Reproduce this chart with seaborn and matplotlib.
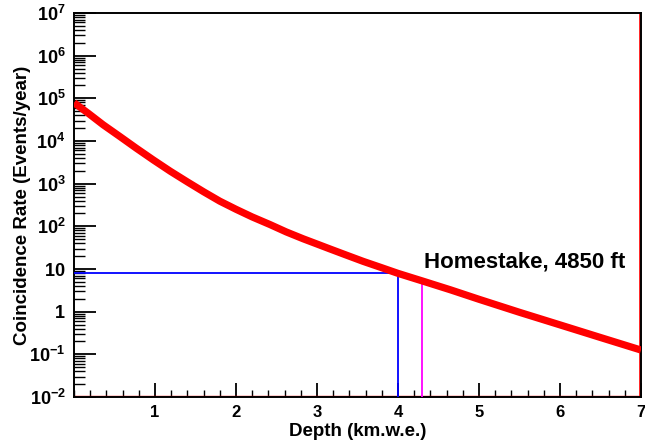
import numpy as np
import pandas as pd
import matplotlib
matplotlib.use("Agg")
import matplotlib.pyplot as plt
import seaborn as sns
from matplotlib.ticker import LogLocator, MultipleLocator, NullFormatter

# ---- data ----
depth = [0.0, 0.18, 0.36, 0.57, 0.77, 0.98, 1.19, 1.4, 1.6, 1.8, 2.0, 2.2, 2.42, 2.62, 2.83,
         3.0, 3.16, 3.35, 3.57, 3.8, 4.0, 4.3, 4.65, 5.0, 5.5, 6.0, 6.5, 7.0]
rate = [7.9e4, 4.4e4, 2.4e4, 1.26e4, 6760, 3590, 1950, 1100, 646, 389, 251, 166, 110, 74, 51,
        38.5, 29.5, 21.6, 15.1, 10.7, 7.9, 5.25, 3.24, 1.95, 0.966, 0.49, 0.248, 0.126]

blue_depth = 4.0
blue_rate = 8.0
magenta_depth = 4.3
magenta_rate = 5.3

ytick_vals = [1e-2, 1e-1, 1, 10, 1e2, 1e3, 1e4, 1e5, 1e6, 1e7]
ytick_labels = [r"$\mathbf{10^{-2}}$", r"$\mathbf{10^{-1}}$", r"$\mathbf{1}$", r"$\mathbf{10}$",
                r"$\mathbf{10^{2}}$", r"$\mathbf{10^{3}}$", r"$\mathbf{10^{4}}$", r"$\mathbf{10^{5}}$",
                r"$\mathbf{10^{6}}$", r"$\mathbf{10^{7}}$"]
xtick_vals = [1, 2, 3, 4, 5, 6, 7]
xtick_labels = ["1", "2", "3", "4", "5", "6", "7"]

annotation = "Homestake, 4850 ft"
xlabel = "Depth (km.w.e.)"
ylabel = "Coincidence Rate (Events/year)"

# ---- style ----
sns.set_style("ticks")
plt.rcParams["font.family"] = ["Liberation Sans", "DejaVu Sans"]
plt.rcParams["mathtext.fontset"] = "custom"
plt.rcParams["mathtext.rm"] = "Liberation Sans"
plt.rcParams["mathtext.bf"] = "Liberation Sans:bold"
plt.rcParams["mathtext.it"] = "Liberation Sans:italic"
for k in ["text.color", "axes.labelcolor", "xtick.color", "ytick.color", "axes.edgecolor"]:
    plt.rcParams[k] = "black"

fig = plt.figure(figsize=(6.45, 4.47), dpi=100)
ax = fig.add_axes([74 / 645, 1 - 397 / 447, (641 - 74) / 645, (397 - 13) / 447])

df = pd.DataFrame({"depth": depth, "rate": rate})
ax.set_yscale("log")
sns.lineplot(data=df, x="depth", y="rate", ax=ax, color="#ff0000", linewidth=5.2,
             solid_capstyle="butt", solid_joinstyle="round", zorder=4)

# reference lines
ax.plot([0, blue_depth], [blue_rate, blue_rate], color="#0000ff", lw=1.3, zorder=3)
ax.plot([blue_depth, blue_depth], [1e-2, blue_rate], color="#0000ff", lw=1.3, zorder=3)
ax.plot([magenta_depth, magenta_depth], [1e-2, magenta_rate], color="#ff00ff", lw=1.3, zorder=3)

# red frame edges (bottom and right)
ax.plot([0, 7], [1.03e-2, 1.03e-2], color="#ff0000", lw=1.0, zorder=2)
ax.plot([6.985, 6.985], [1e-2, 1e7], color="#ff0000", lw=1.2, zorder=2)

ax.set_xlim(0, 7)
ax.set_ylim(1e-2, 1e7)

ax.set_xticks(xtick_vals)
ax.set_xticklabels(xtick_labels, fontweight="bold", fontsize=12)
ax.xaxis.set_minor_locator(MultipleLocator(0.2))

ax.set_yticks(ytick_vals)
ax.set_yticklabels(ytick_labels, fontsize=13)
ax.yaxis.set_minor_locator(LogLocator(base=10, subs=np.arange(2, 10), numticks=20))
ax.yaxis.set_minor_formatter(NullFormatter())

ax.tick_params(axis="both", which="both", direction="in", colors="black")
ax.tick_params(axis="x", which="major", length=10, width=1.3, pad=6)
ax.tick_params(axis="x", which="minor", length=5, width=1.0)
ax.tick_params(axis="y", which="major", length=16, width=1.3, pad=6)
ax.tick_params(axis="y", which="minor", length=8, width=1.0)

for s in ax.spines.values():
    s.set_color("black")
    s.set_linewidth(1.4)

ax.set_xlabel(xlabel, fontweight="bold", fontsize=13.5, labelpad=2)
ax.set_ylabel(ylabel, fontweight="bold", fontsize=13.5, labelpad=-1)

ax.text(4.32, 14.5, annotation, fontsize=16, fontweight="bold", va="center", ha="left", zorder=5)

fig.savefig("out.png", dpi=100)
